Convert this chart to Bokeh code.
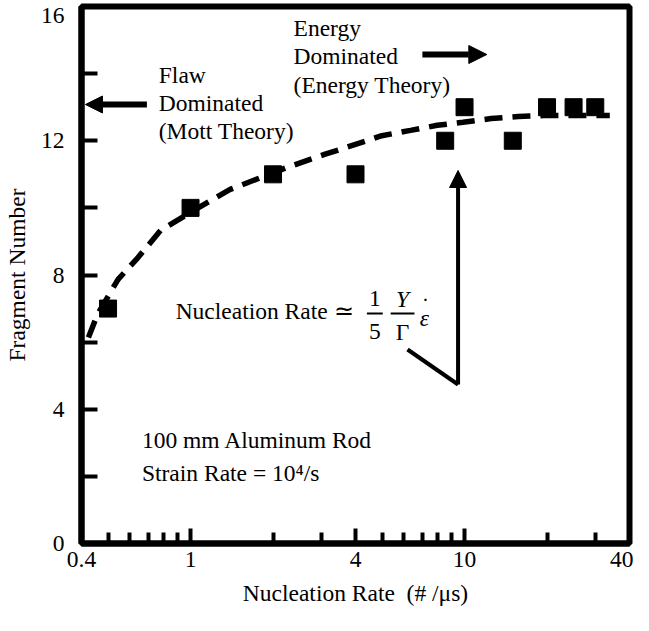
from bokeh.plotting import figure
from bokeh.models import (FixedTicker, NumeralTickFormatter, CustomJSTickFormatter,
                          Label, Arrow, NormalHead, Range1d)
from bokeh.embed import file_html
from bokeh.resources import INLINE

# ---- data ----
rate = [0.5, 1, 2, 4, 8.5, 10, 15, 20, 25, 30]
fragments = [7, 10, 11, 11, 12, 13, 12, 13, 13, 13]

fit_rate = [0.424, 0.457, 0.544, 0.643, 0.778, 1.025, 1.395, 2.24, 3.1, 3.7,
            4.99, 6.35, 7.95, 9.87, 12.5, 15.7, 19.5, 24.9, 31.4, 33.9]
fit_frag = [6.14, 6.82, 7.87, 8.52, 9.33, 9.92, 10.55, 11.2, 11.6, 11.8,
            12.15, 12.31, 12.46, 12.55, 12.66, 12.72, 12.75, 12.75, 12.75, 12.75]

x_major = [0.4, 1, 4, 10, 40]
x_minor = [0.5, 0.6, 0.7, 0.8, 0.9, 2, 3, 5, 6, 7, 8, 9, 20, 30]
y_labels = [0, 4, 8, 12, 15.73]        # "16" label sits just below the frame top
y_tickmarks = [0, 2, 4, 6, 8, 10, 12, 14, 16]

FONT = "Liberation Serif"
FS = "23.5px"

p = figure(x_axis_type="log", x_range=Range1d(0.4, 40), y_range=Range1d(0, 16),
           width=633, height=615, output_backend="svg",
           toolbar_location=None, background_fill_color="white",
           border_fill_color="white")
p.min_border_left = 76
p.min_border_right = 4
p.min_border_top = 6
p.min_border_bottom = 72

p.outline_line_color = "black"
p.outline_line_width = 6
p.xgrid.visible = False
p.ygrid.visible = False

for ax in (p.xaxis[0], p.yaxis[0]):
    ax.axis_line_color = "black"
    ax.axis_line_width = 6
    ax.major_tick_out = 0
    ax.minor_tick_out = 0
    ax.major_tick_line_color = "black"
    ax.minor_tick_line_color = "black"
    ax.major_tick_line_width = 4
    ax.minor_tick_line_width = 4
    ax.major_label_text_font = FONT
    ax.major_label_text_font_size = FS
    ax.major_label_text_color = "black"
    ax.axis_label_text_font = FONT
    ax.axis_label_text_font_size = FS
    ax.axis_label_text_font_style = "normal"
    ax.axis_label_text_color = "black"

xa = p.xaxis[0]
xa.ticker = FixedTicker(ticks=x_major, minor_ticks=x_minor)
xa.formatter = NumeralTickFormatter(format="0.[0]")
xa.major_tick_in = 15
xa.minor_tick_in = 11
xa.major_label_standoff = 8
xa.axis_label = "Nucleation Rate\u00a0 (# /\u03bcs)"
xa.axis_label_standoff = 10

ya = p.yaxis[0]
ya.ticker = FixedTicker(ticks=y_labels, minor_ticks=y_tickmarks)
ya.formatter = CustomJSTickFormatter(code="return tick > 15 ? '16' : String(Math.round(tick));")
ya.major_tick_line_color = None
ya.major_tick_in = 0
ya.minor_tick_in = 16
ya.major_label_standoff = 17
ya.major_label_orientation = "horizontal"
ya.axis_label = "Fragment Number"
ya.axis_label_standoff = 8

# data
p.line(fit_rate, fit_frag, line_color="black", line_width=5.5, line_dash="18 10")
p.scatter(rate, fragments, marker="square", size=17, color="black")

# ---- annotations (positions in pixels of the frame -> data coords) ----
FL, FR, FT, FB = 84, 637, 14, 551


def X(px):
    return 0.4 * 10 ** (2 * (px - FL) / (FR - FL))


def Y(py):
    return 16 * (FB - py) / (FB - FT)


def txt(px, py, s, align="left", style="normal", size=FS):
    p.add_layout(Label(x=X(px), y=Y(py), text=s, text_font=FONT,
                       text_font_size=size, text_font_style=style,
                       text_color="black", text_align=align,
                       text_baseline="middle"))


def seg(x0, y0, x1, y1, w, head=None):
    p.add_layout(Arrow(x_start=X(x0), y_start=Y(y0), x_end=X(x1), y_end=Y(y1),
                       line_width=w, line_color="black", end=head))


txt(162, 82, "Flaw")
txt(162, 110, "Dominated")
txt(162, 138, "(Mott Theory)")
seg(150, 112, 88, 112, 6, NormalHead(size=17, fill_color="black", line_color="black"))

txt(298, 35, "Energy")
txt(298, 63, "Dominated")
txt(298, 92, "(Energy Theory)")
seg(428, 62, 493, 62, 6, NormalHead(size=18, fill_color="black", line_color="black"))

# vertical arrow and pointer line
seg(464, 392, 464, 178, 4, NormalHead(size=17, fill_color="black", line_color="black"))
seg(413, 357, 464, 392, 4)

# formula
txt(179, 318, "Nucleation Rate")
txt(349, 318, "\u2243", align="center")
txt(380, 306, "1", align="center")
txt(380, 339, "5", align="center")
seg(372, 321, 388, 321, 2)
txt(408, 306, "Y", align="center", style="italic")
txt(408, 339, "\u0393", align="center")
seg(396, 321, 420, 321, 2)
txt(430, 325, "\u03b5", align="center", style="italic")
txt(431, 313, "\u02d9", align="center")

txt(145, 447, "100 mm Aluminum Rod")
txt(145, 480, "Strain Rate = 10\u2074/s")

open("out.html", "w").write(file_html(p, INLINE))
